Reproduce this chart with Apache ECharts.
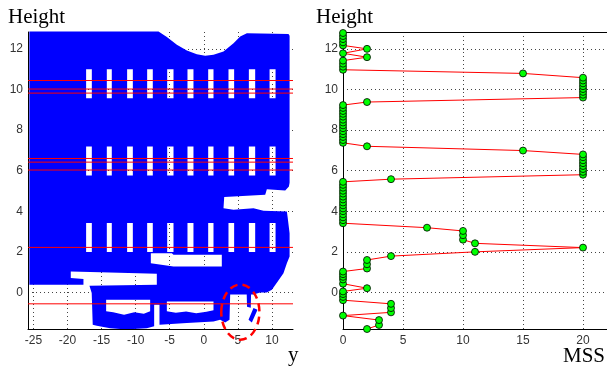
<!DOCTYPE html>
<html>
<head>
<meta charset="utf-8">
<script src="https://cdn.jsdelivr.net/npm/echarts@6/dist/echarts.min.js"></script>
<style>
html, body { margin: 0; padding: 0; background: #fff; }
#chart { width: 607px; height: 369px; }
</style>
</head>
<body>
<div id="chart"></div>
<script>
// ---- left panel: facade point cloud (y, Height) ----
var facadeOutline = [
  [-25.6, 12.85], [-6.64, 12.85], [-5.42, 12.58], [-3.95, 12.2], [-2.48, 11.92],
  [-1.02, 11.74], [0.21, 11.66], [1.43, 11.71], [2.9, 11.87], [4.37, 12.28],
  [5.35, 12.61], [6.33, 12.77], [12.44, 12.73], [12.6, 12.64], [12.6, 5.4],
  [12.5, 5.22], [11.96, 5.02], [9.26, 5.09], [9.02, 4.81], [4.37, 4.73],
  [3.0, 4.7], [2.9, 4.15], [4.37, 4.07], [7.3, 4.15], [8.77, 4.02],
  [12.2, 3.99], [12.3, 3.74], [12.6, 2.92], [12.6, 1.77], [12.2, 1.44],
  [11.7, 0.95], [10.7, 0.46], [10.0, 0.13], [9.26, 0.0], [8.28, 0.0],
  [7.3, -0.1], [3.88, -0.1], [3.78, -1.35], [3.14, -1.48], [2.41, -1.35],
  [1.43, -1.43], [-2.48, -1.51], [-6.5, -1.59], [-6.5, -0.6], [-7.28, -0.6],
  [-7.28, -1.67], [-8.36, -1.76], [-10.3, -1.8], [-12.27, -1.8], [-13.74, -1.76],
  [-15.7, -1.64], [-16.3, -1.59], [-16.45, -0.03], [-16.78, 0.33], [-6.89, 0.38],
  [-6.89, 0.92], [-15.21, 0.99], [-19.52, 1.03], [-19.52, 0.71], [-17.66, 0.66],
  [-17.66, 0.38], [-25.6, 0.38]
];
var facadeBits = [
  [[6.3, 0.0], [6.95, 0.0], [6.9, -0.75], [6.35, -0.7]],
  [[7.3, -0.77], [7.89, -0.85], [7.06, -1.48], [6.57, -1.35]]
];
var facadeGaps = [
  [[-7.77, 1.93], [-4.69, 1.93], [-4.44, 1.86], [2.65, 1.86], [2.65, 1.28], [-4.44, 1.28], [-7.77, 1.44]],
  [[-14.33, -0.36], [-7.87, -0.36], [-7.87, -0.92], [-8.8, -1.05], [-10.2, -0.98], [-11.7, -1.1], [-13.3, -0.98], [-14.33, -0.92]],
  [[-5.42, -0.44], [1.43, -0.44], [1.43, -0.88], [0.4, -0.95], [-1.1, -1.02], [-2.6, -0.94], [-4.1, -1.0], [-5.42, -0.92]]
];
var winLeft = [-17.27, -14.23, -11.25, -8.31, -5.37, -2.39, 0.65, 3.63, 6.62, 9.66];
var winRight = [-16.43, -13.5, -10.41, -7.48, -4.44, -1.51, 1.43, 4.46, 7.55, 10.54];
var winBottom = [9.57, 5.76, 1.99];
var winTop = [11.0, 7.19, 3.42];
var cutHeights = [10.44, 10.02, 9.82, 6.6, 6.42, 6.03, 2.22, -0.56];
var circleCenter = [5.37, -0.97];
var circleRadius = [2.8, 1.36];

// ---- right panel: MSS per height ----
var heightValues = [
  -1.80, -1.60, -1.36, -1.14, -0.98, -0.77, -0.56, -0.38, -0.22, -0.08, 0.05, 0.21,
  0.43, 0.64, 0.77, 0.90, 1.03, 1.18, 1.39, 1.60, 1.79, 2.00, 2.21, 2.42, 2.60, 2.82, 3.03, 3.19,
  3.41, 3.56, 3.70, 3.85, 4.00, 4.14, 4.29, 4.43, 4.58, 4.72, 4.87, 5.01, 5.16, 5.30, 5.45,
  5.58,
  5.80, 5.94, 6.08, 6.23, 6.37, 6.51, 6.66, 6.80,
  6.99, 7.20,
  7.37, 7.51, 7.66, 7.80, 7.94, 8.09, 8.23, 8.37, 8.51, 8.66, 8.80, 8.94, 9.09, 9.23,
  9.38,
  9.60, 9.74, 9.88, 10.02, 10.16, 10.30, 10.44, 10.58,
  10.79,
  10.97, 11.12, 11.27, 11.42,
  11.59, 11.78, 12.00,
  12.17, 12.32, 12.48, 12.63, 12.78
];
var mssValues = [
  2, 3, 3, 0, 4, 4, 4, 0, 0, 0, 0, 2,
  0, 0, 0, 0, 0, 2, 2, 2, 4, 11, 20, 11, 10, 10, 10, 7,
  0, 0, 0, 0, 0, 0, 0, 0, 0, 0, 0, 0, 0, 0, 0,
  4,
  20, 20, 20, 20, 20, 20, 20, 20,
  15, 2,
  0, 0, 0, 0, 0, 0, 0, 0, 0, 0, 0, 0, 0, 0,
  2,
  20, 20, 20, 20, 20, 20, 20, 20,
  15,
  0, 0, 0, 0,
  2, 0, 2,
  0, 0, 0, 0, 0
];

var heightRange = [-1.8, 12.83];
var facadeRange = [-25.8, 13.1];
var mssRange = [0, 22];

var myChart = echarts.init(document.getElementById('chart'));

function ringPath(api, ring, sign) {
  var pts = ring.map(function (p) { return api.coord(p); });
  var area = 0;
  for (var i = 0; i < pts.length; i++) {
    var a = pts[i], b = pts[(i + 1) % pts.length];
    area += a[0] * b[1] - b[0] * a[1];
  }
  if (area * sign < 0) pts.reverse();
  return pts.map(function (c, i) {
    return (i ? 'L ' : 'M ') + c[0].toFixed(2) + ' ' + c[1].toFixed(2) + ' ';
  }).join('') + 'Z ';
}

var windowRings = [];
winBottom.forEach(function (b, j) {
  winLeft.forEach(function (l, i) {
    windowRings.push([[l, b], [winRight[i], b], [winRight[i], winTop[j]], [l, winTop[j]]]);
  });
});

var tickFont = { color: '#333', fontFamily: 'Liberation Sans', fontSize: 12 };
var gridLine = { show: true, showMinLine: false, showMaxLine: false, lineStyle: { color: '#444', type: [1, 3], width: 1 } };
var blackLine = { show: true, onZero: false, lineStyle: { color: '#000', width: 1 } };

function stepLabel(step) {
  return function (v) { return Math.abs(v / step - Math.round(v / step)) < 1e-6 ? String(Math.round(v)) : ''; };
}

var titleFont = '21px "Liberation Serif", "Times New Roman", serif';

option = {
  animation: false,
  backgroundColor: '#fff',
  grid: [
    { left: 28, top: 32, width: 265, height: 297 },
    { left: 343, top: 32, width: 267, height: 297 }
  ],
  xAxis: [
    {
      gridIndex: 0, type: 'value', min: facadeRange[0], max: facadeRange[1], splitNumber: 8,
      axisLine: blackLine, axisTick: { show: false },
      axisLabel: Object.assign({ margin: 6, formatter: stepLabel(5) }, tickFont),
      splitLine: gridLine
    },
    {
      gridIndex: 1, type: 'value', min: mssRange[0], max: mssRange[1], interval: 5,
      axisLine: blackLine, axisTick: { show: false },
      axisLabel: Object.assign({ margin: 6, formatter: stepLabel(5), showMaxLabel: false }, tickFont),
      splitLine: gridLine
    },
    {
      gridIndex: 1, type: 'value', position: 'top', min: mssRange[0], max: mssRange[1],
      axisLine: blackLine, axisTick: { show: false }, axisLabel: { show: false }, splitLine: { show: false }
    }
  ],
  yAxis: [
    {
      gridIndex: 0, type: 'value', min: heightRange[0], max: heightRange[1], splitNumber: 7,
      axisLine: blackLine, axisTick: { show: false },
      axisLabel: Object.assign({ margin: 5, formatter: stepLabel(2) }, tickFont),
      splitLine: gridLine
    },
    {
      gridIndex: 1, type: 'value', min: heightRange[0], max: heightRange[1], splitNumber: 7,
      axisLine: blackLine, axisTick: { show: false },
      axisLabel: Object.assign({ margin: 5, formatter: stepLabel(2) }, tickFont),
      splitLine: gridLine
    }
  ],
  graphic: [
    { type: 'text', left: 8, top: 7, style: { text: 'Height', font: titleFont, fill: '#000' } },
    { type: 'text', left: 316, top: 7, style: { text: 'Height', font: titleFont, fill: '#000' } },
    { type: 'text', left: 288, top: 345, style: { text: 'y', font: titleFont, fill: '#000' } },
    { type: 'text', left: 563, top: 346, style: { text: 'MSS', font: titleFont, fill: '#000' } }
  ],
  series: [
    {
      type: 'custom', xAxisIndex: 0, yAxisIndex: 0, silent: true, z: 2,
      data: [[0, 0]],
      renderItem: function (params, api) {
        var d = ringPath(api, facadeOutline, 1);
        facadeBits.forEach(function (r) { d += ringPath(api, r, 1); });
        facadeGaps.concat(windowRings).forEach(function (r) { d += ringPath(api, r, -1); });
        return { type: 'path', shape: { pathData: d }, style: { fill: '#0000ff' } };
      }
    },
    {
      type: 'custom', xAxisIndex: 0, yAxisIndex: 0, silent: true, z: 3,
      data: cutHeights.map(function (h) { return [facadeRange[0], h]; }),
      renderItem: function (params, api) {
        var h = api.value(1);
        var p1 = api.coord([facadeRange[0], h]);
        var p2 = api.coord([facadeRange[1], h]);
        return {
          type: 'line',
          shape: { x1: p1[0], y1: p1[1], x2: p2[0], y2: p2[1] },
          style: { stroke: '#ff0000', lineWidth: 1 }
        };
      }
    },
    {
      type: 'custom', xAxisIndex: 0, yAxisIndex: 0, silent: true, z: 4, clip: false,
      data: [circleCenter],
      renderItem: function (params, api) {
        var c = api.coord(circleCenter);
        var s = api.size(circleRadius);
        return {
          type: 'ellipse',
          shape: { cx: c[0], cy: c[1], rx: s[0], ry: s[1] },
          style: { fill: null, stroke: '#ff0000', lineWidth: 2.5, lineDash: [8, 5] }
        };
      }
    },
    {
      type: 'line', xAxisIndex: 1, yAxisIndex: 1, z: 3, clip: false,
      data: heightValues.map(function (h, i) { return [mssValues[i], h]; }),
      symbol: 'circle', symbolSize: 7, showSymbol: true,
      lineStyle: { color: '#ff0000', width: 1 },
      itemStyle: { color: '#00ff00', borderColor: '#000', borderWidth: 0.8 }
    }
  ]
};

myChart.setOption(option);
</script>
</body>
</html>
